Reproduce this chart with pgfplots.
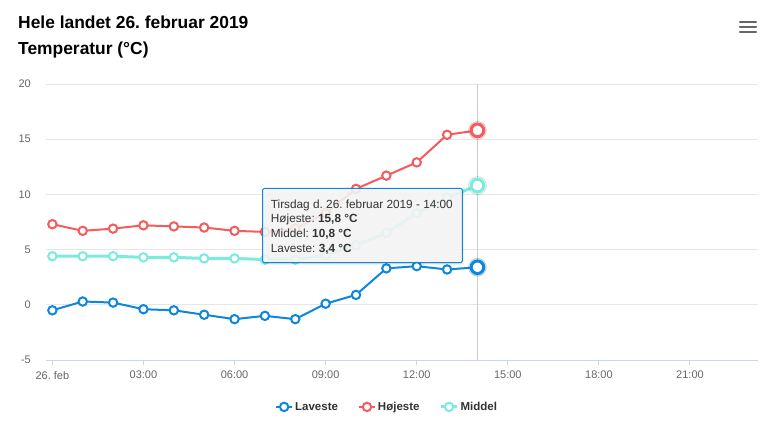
\documentclass[border=0pt]{standalone}
\usepackage{pgfplots}
\pgfplotsset{compat=1.18}
\usepackage{fontspec}
\setmainfont{Liberation Sans}
\frenchspacing

\definecolor{lowc}{HTML}{0D86DC}
\definecolor{highc}{HTML}{F45B5B}
\definecolor{midc}{HTML}{7CEBDD}
\definecolor{gridc}{HTML}{E6E6E6}
\definecolor{axc}{HTML}{CCD6EB}
\definecolor{tickc}{HTML}{666666}
\definecolor{txt}{HTML}{333333}
\definecolor{crossc}{HTML}{CCCCCC}
\definecolor{tipbg}{HTML}{F7F7F7}

% hourly temperatures, 26 February 2019 (hour, value)
\pgfplotstableread{
h  low  high mid
0  -0.5 7.3  4.4
1  0.3  6.7  4.4
2  0.2  6.9  4.4
3  -0.4 7.2  4.3
4  -0.5 7.1  4.3
5  -0.9 7.0  4.2
6  -1.3 6.7  4.2
7  -1.0 6.6  4.1
8  -1.3 6.9  4.1
9  0.1  8.3  4.5
10 0.9  10.5 5.4
11 3.3  11.7 6.5
12 3.5  12.9 8.3
13 3.2  15.4 9.7
14 3.4  15.8 10.8
}\temps

\begin{document}
\begin{tikzpicture}
\fill[white] (0pt,0pt) rectangle (770pt,424pt);

% titles
\node[anchor=base west, inner sep=0pt, text=black, font=\fontsize{17.4}{20}\selectfont\bfseries] at (18pt,395pt) {Hele landet 26. februar 2019};
\node[anchor=base west, inner sep=0pt, text=black, font=\fontsize{17.4}{20}\selectfont\bfseries] at (18pt,369pt) {Temperatur (°C)};

% menu icon
\foreach \yy in {402,397,392}
  \draw[tickc, line width=2.4pt, line cap=round] (740pt,\yy pt) -- (756pt,\yy pt);

\begin{axis}[
  at={(46pt,64pt)}, anchor=south west,
  scale only axis, width=712pt, height=276pt,
  xmin=-0.21, xmax=23.24, ymin=-5, ymax=20,
  ytick={-5,0,5,10,15,20},
  xtick={0,3,6,9,12,15,18,21},
  xticklabels={26. feb,03:00,06:00,09:00,12:00,15:00,18:00,21:00},
  axis lines*=left,
  axis line style={-},
  y axis line style={draw=none},
  x axis line style={axc, line width=1pt},
  tick align=outside,
  major tick length=5pt,
  xtick style={axc, line width=1pt},
  ytick style={draw=none},
  ymajorgrids,
  major grid style={gridc, line width=1pt},
  /pgf/number format/assume math mode=true,
  ticklabel style={font=\fontsize{11}{13}\selectfont, text=tickc},
  yticklabel style={inner sep=0pt, xshift=-10pt},
  xticklabel style={inner sep=0pt, yshift=-6pt},
  clip=false,
  legend style={at={(axis description cs:0.479,-0.17)}, anchor=center,
    draw=none, fill=none, legend columns=3,
    font=\fontsize{11.5}{14}\selectfont\bfseries, text=txt,
    /tikz/every even column/.append style={column sep=18pt}},
  legend cell align=left,
  legend image code/.code={
    \draw[#1, mark=none] (0pt,0pt) -- (16pt,0pt);
    \draw[#1, only marks] plot coordinates {(8pt,0pt)};
  },
]
\draw[crossc, line width=1pt] (axis cs:14,-5) -- (axis cs:14,20);

\addplot[lowc, line width=2pt, mark=*, mark size=4.2pt, mark options={fill=white, draw=lowc, line width=2pt}]
  table[x=h, y=low] {\temps};
\addlegendentry{Laveste}
\addplot[highc, line width=2pt, mark=*, mark size=4.2pt, mark options={fill=white, draw=highc, line width=2pt}]
  table[x=h, y=high] {\temps};
\addlegendentry{Højeste}
\addplot[midc, line width=3pt, mark=*, mark size=4.2pt, mark options={fill=white, draw=midc, line width=2pt}]
  table[x=h, y=mid] {\temps};
\addlegendentry{Middel}

% highlighted 14:00 points with a soft halo
\addplot[forget plot, only marks, mark=*, mark size=9pt, mark options={fill=lowc, draw=none, opacity=0.2}] coordinates {(14,3.4)};
\addplot[forget plot, only marks, mark=*, mark size=9pt, mark options={fill=highc, draw=none, opacity=0.2}] coordinates {(14,15.8)};
\addplot[forget plot, only marks, mark=*, mark size=9pt, mark options={fill=midc, draw=none, opacity=0.2}] coordinates {(14,10.8)};
\addplot[forget plot, only marks, mark=*, mark size=6.3pt, mark options={fill=white, draw=lowc, line width=3pt}] coordinates {(14,3.4)};
\addplot[forget plot, only marks, mark=*, mark size=6.3pt, mark options={fill=white, draw=highc, line width=3pt}] coordinates {(14,15.8)};
\addplot[forget plot, only marks, mark=*, mark size=6.3pt, mark options={fill=white, draw=midc, line width=3pt}] coordinates {(14,10.8)};
\end{axis}

% tooltip
\fill[black, opacity=0.05] (263.7pt,159.3pt) rectangle (464.3pt,234.7pt);
\fill[black, opacity=0.05] (263.2pt,159.8pt) rectangle (463.3pt,235.2pt);
\draw[lowc, fill=tipbg, fill opacity=0.88, line width=1pt, rounded corners=1.5pt] (262.7pt,161.3pt) rectangle (462.3pt,235.7pt);
\begin{scope}[every node/.style={anchor=base west, inner sep=0pt, text=txt, font=\fontsize{11.8}{14}\selectfont}]
\node at (270.7pt,216pt) {Tirsdag d. 26. februar 2019 - 14:00};
\node at (270.7pt,202pt) {Højeste: \textbf{15,8 °C}};
\node at (270.7pt,186.5pt) {Middel: \textbf{10,8 °C}};
\node at (270.7pt,171.5pt) {Laveste: \textbf{3,4 °C}};
\end{scope}
\end{tikzpicture}
\end{document}
